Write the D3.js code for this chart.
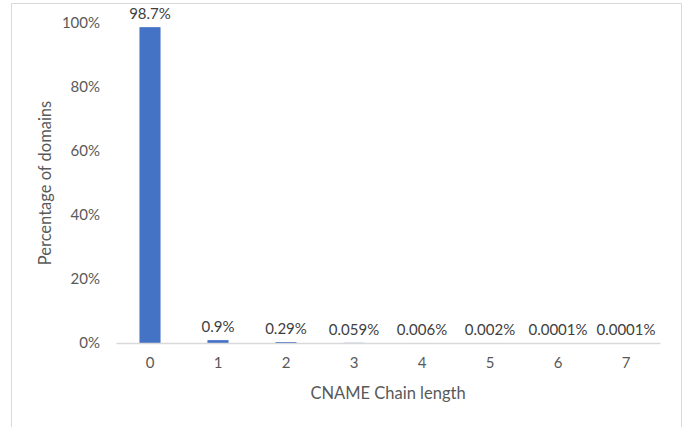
<!DOCTYPE html>
<html>
<head>
<meta charset="utf-8">
<script src="https://cdn.jsdelivr.net/npm/d3@7"></script>
<style>
  html, body { margin: 0; padding: 0; background: #fff; }
  svg { display: block; }
  text { font-family: Lato, "Open Sans", sans-serif; }
</style>
</head>
<body>
<svg id="chart" width="684" height="427"></svg>
<script>
// CNAME chain length distribution
const chainLengths = ["0", "1", "2", "3", "4", "5", "6", "7"];
const percentValues = [98.7, 0.9, 0.29, 0.059, 0.006, 0.002, 0.0001, 0.0001];
const valueLabels = ["98.7%", "0.9%", "0.29%", "0.059%", "0.006%", "0.002%", "0.0001%", "0.0001%"];
const yTicks = [0, 20, 40, 60, 80, 100];

const FONT = "Lato, 'Open Sans', sans-serif";
const svg = d3.select("#chart");
const W = 684, H = 427;
const margin = { left: 116, right: 24, top: 23, bottom: 84 };

// chart frame
svg.append("path")
  .attr("d", `M11.5,${H} V3.5 H681.5 V${H}`)
  .attr("fill", "none")
  .attr("stroke", "#d9d9d9")
  .attr("stroke-width", 1);

const x = d3.scaleBand()
  .domain(chainLengths)
  .range([margin.left, W - margin.right])
  .paddingInner(0.69)
  .paddingOuter(0.345);

const y = d3.scaleLinear()
  .domain([0, 100])
  .range([H - margin.bottom, margin.top]);

// bars
svg.append("g").selectAll("rect")
  .data(percentValues)
  .join("rect")
  .attr("x", (d, i) => x(chainLengths[i]))
  .attr("y", d => y(d))
  .attr("width", x.bandwidth())
  .attr("height", d => y(0) - y(d))
  .attr("fill", "#4472c4");

// value labels
svg.append("g").selectAll("text")
  .data(percentValues)
  .join("text")
  .attr("x", (d, i) => x(chainLengths[i]) + x.bandwidth() / 2)
  .attr("y", d => y(d) - 8)
  .attr("text-anchor", "middle")
  .attr("font-size", 15)
  .attr("fill", "#404040")
  .text((d, i) => valueLabels[i]);

// x axis
const xAxis = svg.append("g")
  .attr("transform", `translate(0,${y(0)})`)
  .call(d3.axisBottom(x).tickSize(0).tickPadding(14));
xAxis.select(".domain").attr("stroke", "#d9d9d9").attr("stroke-width", 1.3);
xAxis.selectAll("text")
  .attr("font-size", 15)
  .attr("fill", "#595959")
  .style("font-family", FONT);

// y axis
const yAxis = svg.append("g")
  .attr("transform", `translate(${margin.left},0)`)
  .call(d3.axisLeft(y).tickValues(yTicks).tickFormat(d => d + "%").tickSize(0).tickPadding(16));
yAxis.select(".domain").remove();
yAxis.selectAll("text")
  .attr("font-size", 15)
  .attr("fill", "#595959")
  .style("font-family", FONT);

// axis titles
svg.append("text")
  .attr("x", (margin.left + W - margin.right) / 2)
  .attr("y", 399)
  .attr("text-anchor", "middle")
  .attr("font-size", 16.5)
  .attr("fill", "#595959")
  .text("CNAME Chain length");

svg.append("text")
  .attr("transform", `translate(51,${(y(0) + y(100)) / 2}) rotate(-90)`)
  .attr("text-anchor", "middle")
  .attr("font-size", 16.5)
  .attr("fill", "#595959")
  .text("Percentage of domains");
</script>
</body>
</html>
